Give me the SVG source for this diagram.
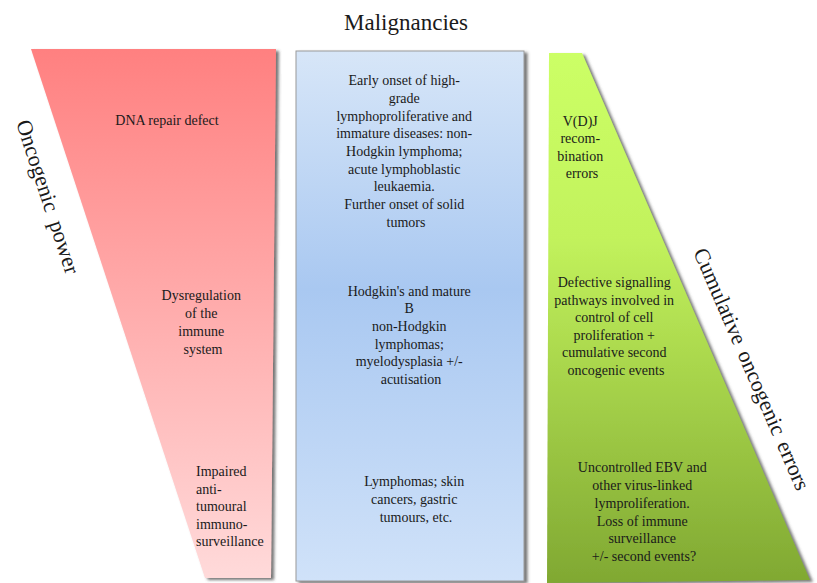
<svg xmlns="http://www.w3.org/2000/svg" width="817" height="583" viewBox="0 0 817 583">
<style>
  text { fill: #1a1a1a; font-family: "Liberation Serif", "Times New Roman", serif; }
  .t { font-size: 14px; }
  .c { text-anchor: middle; }
  .big { font-size: 22px; }
</style>
<defs>
  <linearGradient id="gRed" x1="0" y1="0" x2="0" y2="1">
    <stop offset="0" stop-color="#ff8080"/>
    <stop offset="1" stop-color="#ffdada"/>
  </linearGradient>
  <linearGradient id="gBlue" x1="0" y1="0" x2="0" y2="1">
    <stop offset="0" stop-color="#d7e6f8"/>
    <stop offset="0.45" stop-color="#a9c8f1"/>
    <stop offset="1" stop-color="#d0e2f9"/>
  </linearGradient>
  <linearGradient id="gGreen" x1="0" y1="0" x2="0" y2="1">
    <stop offset="0" stop-color="#ccff66"/>
    <stop offset="0.35" stop-color="#c2f25c"/>
    <stop offset="1" stop-color="#80a832"/>
  </linearGradient>
  <filter id="shadow" x="-10%" y="-10%" width="120%" height="120%">
    <feDropShadow dx="3" dy="2" stdDeviation="1.5" flood-color="#555" flood-opacity="0.8"/>
  </filter>
</defs>

<text class="c" x="406" y="30" font-size="23">Malignancies</text>

<g id="oncogenic-power">
  <polygon points="31,49 276,49 271,578 205,578" fill="url(#gRed)" filter="url(#shadow)"/>
  <text class="big c" transform="translate(41,199) rotate(71.8)" word-spacing="5">Oncogenic power</text>
  <text class="t c" x="167" y="125">DNA repair defect</text>
  <text class="t c">
    <tspan x="203" y="300">Dysregulation</tspan>
    <tspan x="203" y="318">of the</tspan>
    <tspan x="203" y="336">immune</tspan>
    <tspan x="203" y="354">system</tspan>
  </text>
  <text class="t">
    <tspan x="196" y="476">Impaired</tspan>
    <tspan x="196" y="494">anti-</tspan>
    <tspan x="196" y="511">tumoural</tspan>
    <tspan x="196" y="529">immuno-</tspan>
    <tspan x="196" y="546">surveillance</tspan>
  </text>
</g>

<g id="malignancies">
  <rect x="296" y="51" width="228" height="530" fill="url(#gBlue)" stroke="#9a9a9a" stroke-width="1" filter="url(#shadow)"/>
  <text class="t c">
    <tspan x="406" y="85">Early onset of high-</tspan>
    <tspan x="406" y="103">grade</tspan>
    <tspan x="406" y="121">lymphoproliferative and</tspan>
    <tspan x="406" y="138">immature diseases: non-</tspan>
    <tspan x="406" y="156">Hodgkin lymphoma;</tspan>
    <tspan x="406" y="174">acute lymphoblastic</tspan>
    <tspan x="406" y="191">leukaemia.</tspan>
    <tspan x="406" y="209">Further onset of solid</tspan>
    <tspan x="406" y="227">tumors</tspan>
  </text>
  <text class="t c">
    <tspan x="411" y="296">Hodgkin's and mature</tspan>
    <tspan x="411" y="313">B</tspan>
    <tspan x="411" y="331">non-Hodgkin</tspan>
    <tspan x="411" y="349">lymphomas;</tspan>
    <tspan x="411" y="366">myelodysplasia  +/-</tspan>
    <tspan x="411" y="384">acutisation</tspan>
  </text>
  <text class="t c">
    <tspan x="416" y="486">Lymphomas;  skin</tspan>
    <tspan x="416" y="504">cancers, gastric</tspan>
    <tspan x="416" y="522">tumours,  etc.</tspan>
  </text>
</g>

<g id="cumulative-errors">
  <polygon points="549,53 582,53 810,580 547,583" fill="url(#gGreen)" filter="url(#shadow)"/>
  <text class="big c" transform="translate(745,372) rotate(66.6)" word-spacing="3">Cumulative oncogenic errors</text>
  <text class="t c">
    <tspan x="582" y="126">V(D)J</tspan>
    <tspan x="582" y="143">recom-</tspan>
    <tspan x="582" y="161">bination</tspan>
    <tspan x="582" y="178">errors</tspan>
  </text>
  <text class="t c">
    <tspan x="616" y="287">Defective signalling</tspan>
    <tspan x="616" y="305">pathways involved in</tspan>
    <tspan x="616" y="322">control of cell</tspan>
    <tspan x="616" y="340">proliferation +</tspan>
    <tspan x="616" y="357">cumulative second</tspan>
    <tspan x="616" y="375">oncogenic events</tspan>
  </text>
  <text class="t c">
    <tspan x="644" y="472">Uncontrolled EBV and</tspan>
    <tspan x="644" y="490">other virus-linked</tspan>
    <tspan x="644" y="508">lymproliferation.</tspan>
    <tspan x="644" y="526">Loss of immune</tspan>
    <tspan x="644" y="543">surveillance</tspan>
    <tspan x="644" y="561">+/- second events?</tspan>
  </text>
</g>
</svg>
